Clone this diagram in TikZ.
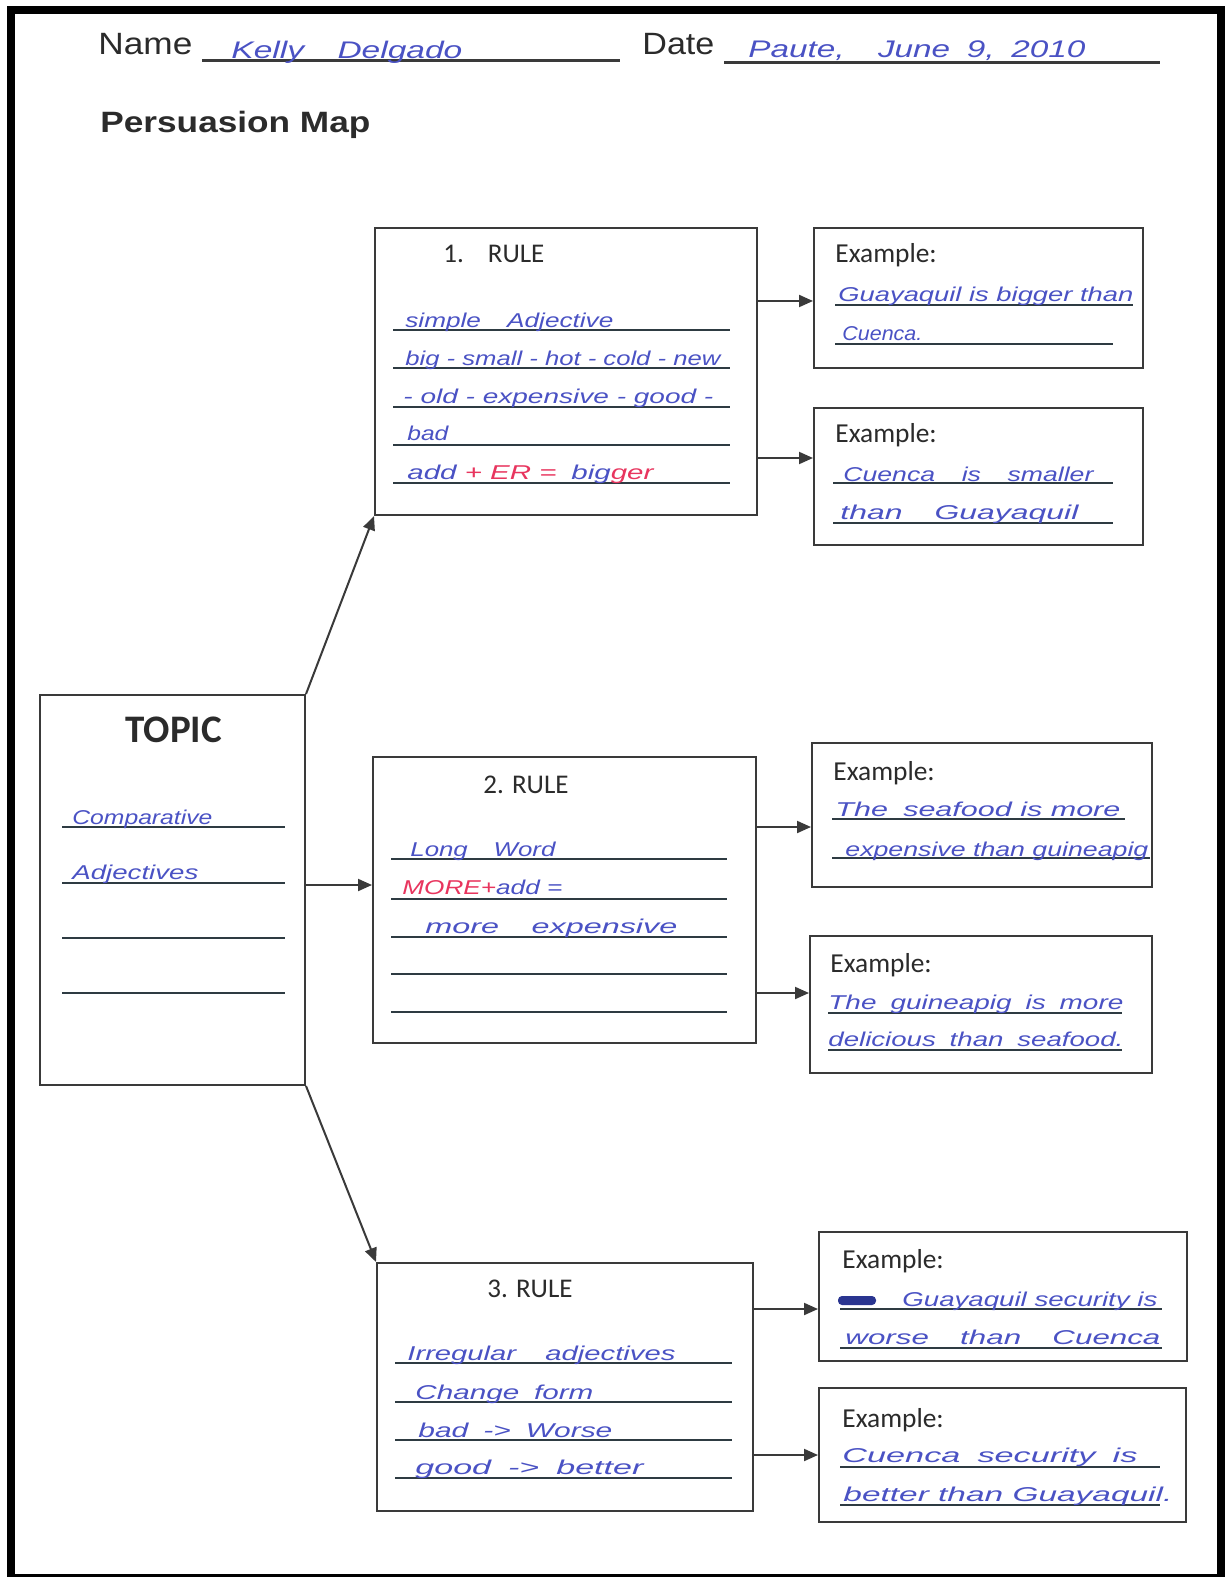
\documentclass[tikz,border=0pt]{standalone}
\usepackage{fontspec}
\usepackage{graphicx}
\setmainfont{Liberation Sans}
\newfontfamily\calib{Carlito}
\newfontfamily\handfont{Liberation Sans}
\usetikzlibrary{arrows.meta,fit}

\definecolor{ink}{HTML}{4A52C4}
\definecolor{inkdark}{HTML}{2A3590}
\definecolor{redink}{HTML}{E8355E}
\definecolor{printc}{HTML}{2B2B2B}
\definecolor{boxc}{HTML}{3A3A3A}
\definecolor{rulec}{HTML}{2E3B42}

% stretch a line of text to a given width (in px), keeping its height
\newcommand\fitw[2]{\resizebox{\dimexpr #1pt/2\relax}{\height}{#2}}
% handwritten line of given width (px)
\newcommand\hw[2]{\fitw{#1}{\handfont\itshape\fontsize{10}{12}\selectfont #2}}
\newcommand\hwbig[2]{\fitw{#1}{\handfont\itshape\fontsize{12}{14}\selectfont #2}}

\tikzset{
  box/.style={draw=boxc, line width=1pt, inner sep=0pt},
  uline/.style={draw=rulec, line width=1.2pt},
  hline/.style={draw=boxc, line width=1.5pt},
  arr/.style={draw=boxc, line width=1pt, -{Triangle[length=7pt,width=6pt]}},
  hand/.style={anchor=base west, inner sep=0pt, text=ink},
  printed/.style={anchor=base west, inner sep=0pt, text=printc},
  example/.style={printed, font=\calib\fontsize{13.7}{16}\selectfont},
  rulelbl/.style={printed, font=\calib\fontsize{13.5}{16}\selectfont},
}

\begin{document}
\begin{tikzpicture}[x=0.5pt,y=-0.5pt]
\useasboundingbox (0,0) rectangle (1228,1577);
\fill[white] (0,0) rectangle (1228,1577);
% page frame
\draw[line width=4pt] (11,10.5) rectangle (1221,1577.5);

% header
\node[printed] (lname) at (98,55) {\fitw{94}{\fontsize{15.4}{18}\selectfont Name}};
\draw[hline] (202,61) -- (620,61);
\node[hand] (vname) at (231,59) {\hwbig{231}{Kelly\quad Delgado}};
\node[printed] (ldate) at (642,55) {\fitw{72}{\fontsize{15.4}{18}\selectfont Date}};
\draw[hline] (724,63) -- (1160,63);
\node[hand] (vdate) at (748,58) {\hwbig{337}{Paute,\quad June\enspace 9,\enspace 2010}};
\node[printed] (title) at (100,133) {\fitw{270}{\fontsize{14.7}{18}\selectfont\bfseries Persuasion Map}};

% boxes
\node[box, fit={(40,695) (305,1085)}] (topic) {};
\node[box, fit={(375,228) (757,515)}] (r1) {};
\node[box, fit={(373,757) (756,1043)}] (r2) {};
\node[box, fit={(377,1263) (753,1511)}] (r3) {};
\node[box, fit={(814,228) (1143,368)}] (e1) {};
\node[box, fit={(814,408) (1143,545)}] (e2) {};
\node[box, fit={(812,743) (1152,887)}] (e3) {};
\node[box, fit={(810,936) (1152,1073)}] (e4) {};
\node[box, fit={(819,1232) (1187,1361)}] (e5) {};
\node[box, fit={(819,1388) (1186,1522)}] (e6) {};

% connectors
\draw[arr] (topic.north east) -- (r1.south west);
\draw[arr] (topic.east |- 0,885) -- (r2.west |- 0,885);
\draw[arr] (topic.south east) -- (r3.north west);
\draw[arr] (r1.east |- 0,301) -- (e1.west |- 0,301);
\draw[arr] (r1.east |- 0,458) -- (e2.west |- 0,458);
\draw[arr] (r2.east |- 0,827) -- (e3.west |- 0,827);
\draw[arr] (r2.east |- 0,993) -- (e4.west |- 0,993);
\draw[arr] (r3.east |- 0,1309) -- (e5.west |- 0,1309);
\draw[arr] (r3.east |- 0,1455) -- (e6.west |- 0,1455);

% TOPIC
\node[printed, font=\calib\bfseries\fontsize{19.5}{22}\selectfont] (topict) at (125,742) {TOPIC};
\foreach \y in {827,883,938,993} \draw[uline] (62,\y) -- (285,\y);
\node[hand] (tp1) at (72,824) {\hw{140}{Comparative}};
\node[hand] (tp2) at (72,879) {\hw{126}{Adjectives}};

% rule 1
\node[rulelbl] (r1t) at (443,263) {1.\hspace{12pt}RULE};
\foreach \y in {330,368,407,445,483} \draw[uline] (393,\y) -- (730,\y);
\node[hand] (r1a) at (405,328) {\hw{208}{simple\quad Adjective}};
\node[hand] (r1b) at (405,366) {\hw{315}{big - small - hot - cold - new}};
\node[hand] (r1c) at (403,404) {\hw{310}{- old - expensive - good -}};
\node[hand] (r1d) at (407,441) {\hw{41}{bad}};
\node[hand] (r1e) at (407,479) {\hw{246}{add \textcolor{redink}{+ ER =}\enspace big\textcolor{redink}{ger}}};

% examples of rule 1
\node[example] (e1t) at (835,263) {Example:};
\draw[uline] (835,305) -- (1133,305);
\draw[uline] (835,344) -- (1113,344);
\node[hand] (e1a) at (838,302) {\hw{295}{Guayaquil is bigger than}};
\node[hand] (e1b) at (842,341) {\hw{80}{Cuenca.}};

\node[example] (e2t) at (835,443) {Example:};
\draw[uline] (833,483) -- (1113,483);
\draw[uline] (833,523) -- (1113,523);
\node[hand] (e2a) at (843,481) {\hw{250}{Cuenca\quad is\quad smaller}};
\node[hand] (e2b) at (840,519) {\hw{238}{than\quad Guayaquil}};

% rule 2
\node[rulelbl] (r2t) at (483,793) {2. RULE};
\foreach \y in {859,899,937,974,1012} \draw[uline] (391,\y) -- (727,\y);
\node[hand] (r2a) at (410,856) {\hw{145}{Long\quad Word}};
\node[hand] (r2b) at (402,894) {\hw{160}{\textcolor{redink}{MORE+}add =}};
\node[hand] (r2c) at (425,933) {\hw{252}{more\quad expensive}};

% examples of rule 2
\node[example] (e3t) at (833,780) {Example:};
\draw[uline] (832,819) -- (1125,819);
\draw[uline] (832,858) -- (1150,858);
\node[hand] (e3a) at (835,816) {\hw{285}{The\enspace seafood is more}};
\node[hand] (e3b) at (845,856) {\hw{303}{expensive than guineapig}};

\node[example] (e4t) at (830,972) {Example:};
\draw[uline] (828,1013) -- (1122,1013);
\draw[uline] (828,1050) -- (1122,1050);
\node[hand] (e4a) at (828,1009) {\hw{295}{The\enspace guineapig\enspace is\enspace more}};
\node[hand] (e4b) at (828,1046) {\hw{295}{delicious\enspace than\enspace seafood.}};

% rule 3
\node[rulelbl] (r3t) at (487,1297) {3. RULE};
\foreach \y in {1363,1402,1440,1478} \draw[uline] (395,\y) -- (732,\y);
\node[hand] (r3a) at (407,1360) {\hw{268}{Irregular\quad adjectives}};
\node[hand] (r3b) at (415,1399) {\hw{178}{Change\enspace form}};
\node[hand] (r3c) at (418,1437) {\hw{194}{bad\enspace ->\enspace Worse}};
\node[hand] (r3d) at (415,1474) {\hw{228}{good\enspace ->\enspace better}};

% examples of rule 3
\node[example] (e5t) at (842,1268) {Example:};
\draw[uline] (840,1309) -- (1162,1309);
\draw[uline] (840,1348) -- (1162,1348);
\fill[inkdark, rounded corners=2pt] (838,1296) rectangle (876,1305);
\node[hand] (e5a) at (902,1306) {\hw{255}{Guayaquil security is}};
\node[hand] (e5b) at (845,1344) {\hw{315}{worse\quad than\quad Cuenca}};

\node[example] (e6t) at (842,1427) {Example:};
\draw[uline] (840,1467) -- (1160,1467);
\draw[uline] (840,1505) -- (1160,1505);
\node[hand] (e6a) at (842,1462) {\hw{295}{Cuenca\enspace security\enspace is}};
\node[hand] (e6b) at (843,1501) {\hw{329}{better than Guayaquil.}};
\end{tikzpicture}
\end{document}
